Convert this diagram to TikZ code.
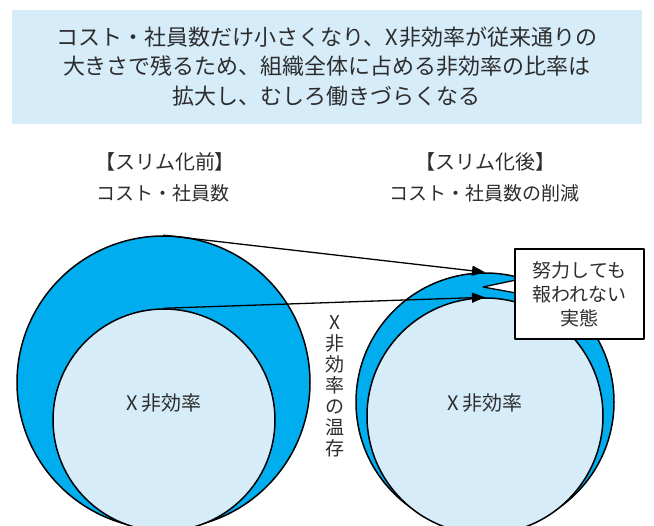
\documentclass[tikz,border=0pt]{standalone}
\usepackage{fontspec}
\setmainfont{Noto Sans CJK JP}
\usetikzlibrary{arrows.meta}
\definecolor{ringblue}{RGB}{0,174,239}
\definecolor{paleblue}{RGB}{214,236,249}
\definecolor{inkgray}{RGB}{45,45,45}

\begin{document}
\begin{tikzpicture}[line cap=round,line join=round,>={Triangle[length=13pt,width=10pt]},x=1pt,y=-1pt,
  ring/.style={circle,draw=black,line width=1.5pt,fill=ringblue,inner sep=0pt},
  core/.style={circle,draw=black,line width=1.5pt,fill=paleblue,inner sep=0pt},
  txt/.style={text=inkgray,align=center,inner sep=0pt}]
\useasboundingbox (0,0) rectangle (654,526);

\fill [paleblue] (12,10) rectangle (642,124);
\node [txt,font=\fontsize{22}{29.5}\selectfont] (headline) at (327,66.5)
  {コスト・社員数だけ小さくなり、X\hspace{1.5pt}非効率が従来通りの\\大きさで残るため、組織全体に占める非効率の比率は\\拡大し、むしろ働きづらくなる};

\node [txt,font=\fontsize{20}{24}\selectfont] (titleA) at (165,162) {【スリム化前】};
\node [txt,font=\fontsize{19}{24}\selectfont] (subA) at (163,193) {コスト・社員数};
\node [txt,font=\fontsize{20}{24}\selectfont] (titleB) at (485,162) {【スリム化後】};
\node [txt,font=\fontsize{19}{24}\selectfont] (subB) at (484,193) {コスト・社員数の削減};

\node [ring,minimum size=293pt] (outerA) at (163.5,382.5) {};
\node [core,minimum size=222pt] (innerA) at (164,420) {};
\node [ring,minimum size=258pt] (outerB) at (485,402) {};
\node [core,minimum size=236pt] (innerB) at (485,416) {};

\filldraw [fill=white,line width=1.3pt] (516,280) -- (483,287) -- (516,293);

\node [txt,font=\fontsize{20}{24}\selectfont] (xineffA) at (164,403) {X\hspace{3pt}非効率};
\node [txt,font=\fontsize{20}{24}\selectfont] (xineffB) at (485,403) {X\hspace{3pt}非効率};
\node [txt,font=\fontsize{19}{21}\selectfont] (keep) at (335,386.5) {X\\非\\効\\率\\の\\温\\存};

\draw [->,line width=1.3pt] (outerA.north) -- (outerB.north);
\draw [->,line width=1.3pt] (innerA.north) -- (innerB.north);

\node [txt,draw=black,fill=white,line width=1.3pt,minimum width=129pt,minimum height=90pt,
  font=\fontsize{19}{24}\selectfont] (note) at (579.5,294) {努力しても\\報われない\\実態};
\end{tikzpicture}
\end{document}
